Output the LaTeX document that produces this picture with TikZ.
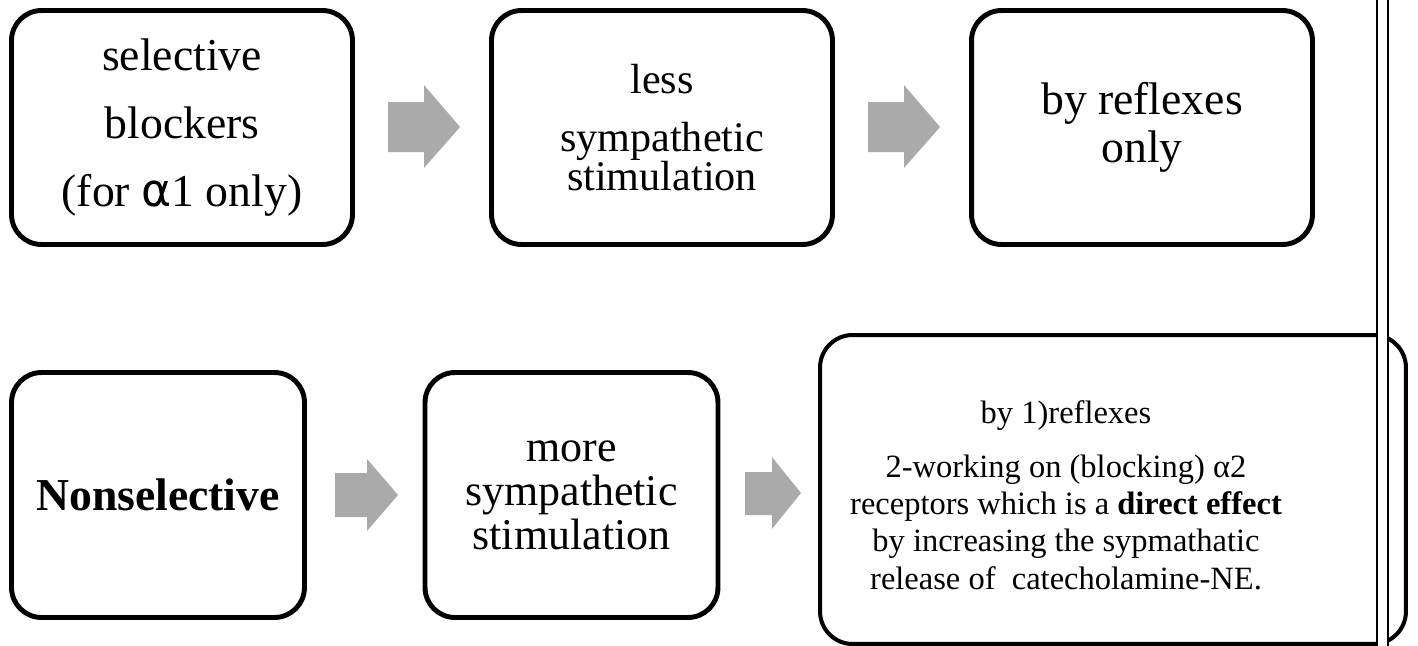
\documentclass[tikz,border=0pt]{standalone}
\usepackage{fontspec}
\usepackage{xcolor}
\setmainfont{Liberation Serif}
\newfontfamily\greeksans{DejaVu Sans}
\definecolor{arrowgray}{RGB}{170,170,170}

\tikzset{
  stepbox/.style={draw, rectangle, rounded corners=0.6cm, line width=2.8pt, align=center, inner sep=0pt},
  bigbox/.style={draw, rectangle, rounded corners=0.65cm, line width=2.3pt, inner sep=0pt},
  blockarrow/.style={fill=arrowgray, draw=none}
}

\begin{document}
\begin{tikzpicture}[x=0.02cm, y=-0.02cm]
            \useasboundingbox (0,0) rectangle (1418,646);
            \node[stepbox, minimum width=6.82cm, minimum height=4.68cm, font=\fontsize{26}{38.5}\selectfont] (sel) at (182,127.5) {selective\\blockers\\(for {\greeksans α}1 only)};
            \node[stepbox, minimum width=6.82cm, minimum height=4.68cm, font=\fontsize{24}{22}\selectfont] (less) at (662,127.5) {less\\[11pt]sympathetic\\stimulation};
            \node[stepbox, minimum width=6.82cm, minimum height=4.68cm, font=\fontsize{26}{27.5}\selectfont] (refl) at (1142,127.5) {by reflexes\\only};
            \node[stepbox, minimum width=5.86cm, minimum height=4.9cm, font=\fontsize{26}{30}\selectfont] (nonsel) at (158,495) {\textbf{Nonselective}};
            \node[stepbox, minimum width=5.86cm, minimum height=4.9cm, font=\fontsize{25}{25}\selectfont] (more) at (571.5,495) {more\\sympathetic\\stimulation};
            \node[bigbox, minimum width=11.72cm, minimum height=6.18cm] (both) at (1113,489.5) {};
            \node[align=center, inner sep=0pt, font=\fontsize{18.5}{21.3}\selectfont] (bothtext) at (1066,495) {by 1)reflexes\\[9.4pt]2-working on (blocking) α2\\receptors which is a \textbf{direct effect}\\by increasing the sypmathatic\\release of~ catecholamine-NE.};
            \fill[blockarrow] (388,102) -- (424,102) -- (424,85) -- (460,127) -- (424,168) -- (424,152) -- (388,152) -- cycle;
            \fill[blockarrow] (868,102) -- (904,102) -- (904,85) -- (940,127) -- (904,168) -- (904,152) -- (868,152) -- cycle;
            \fill[blockarrow] (335,473) -- (367,473) -- (367,459) -- (398,495) -- (367,531) -- (367,517) -- (335,517) -- cycle;
            \fill[blockarrow] (745,472) -- (772,472) -- (772,457) -- (801,493) -- (772,529) -- (772,515) -- (745,515) -- cycle;
            \fill[white] (1377,-5) rectangle (1388,651);
            \draw[line width=1.1pt] (1377,-5) -- (1377,651) (1388,-5) -- (1388,651);
        \end{tikzpicture}
\end{document}
